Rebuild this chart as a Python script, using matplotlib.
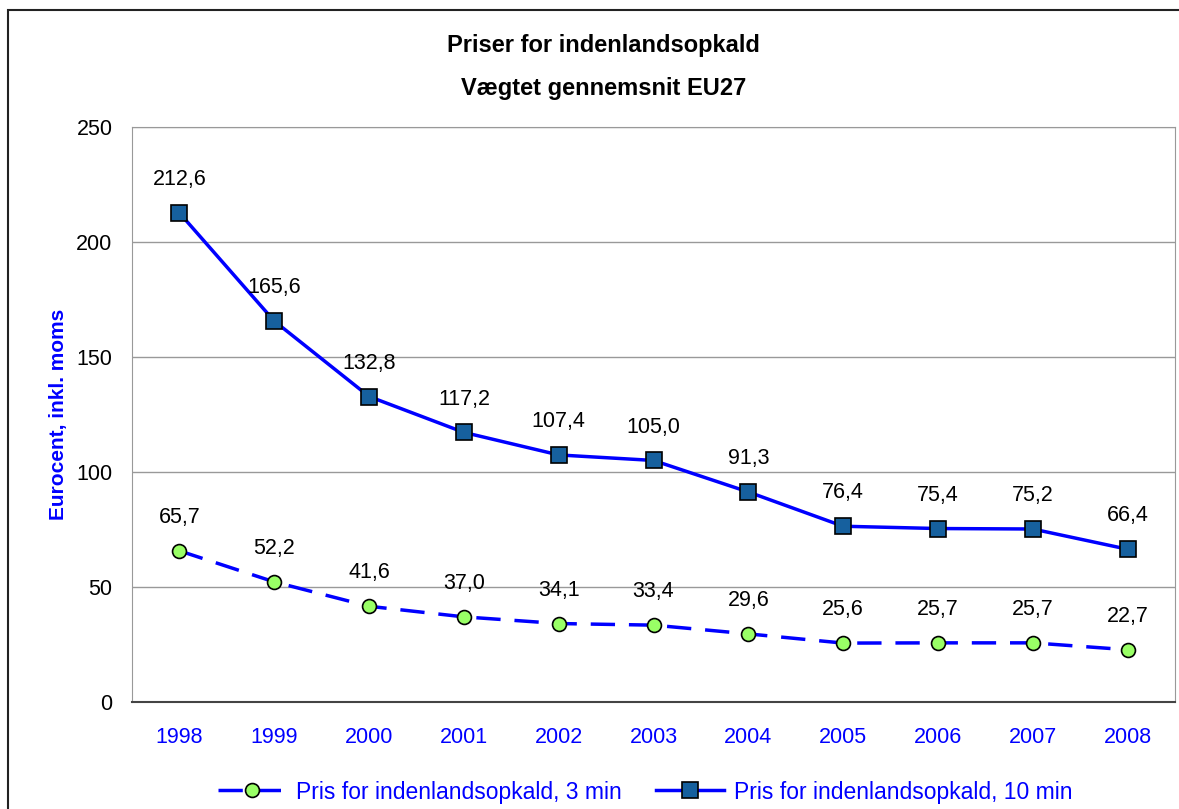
import matplotlib.pyplot as plt
from matplotlib.patches import Rectangle

plt.rcParams['font.family'] = ['Liberation Sans', 'DejaVu Sans']

# data
years = ['1998', '1999', '2000', '2001', '2002', '2003', '2004', '2005', '2006', '2007', '2008']
price_10min = [212.6, 165.6, 132.8, 117.2, 107.4, 105.0, 91.3, 76.4, 75.4, 75.2, 66.4]
price_3min = [65.7, 52.2, 41.6, 37.0, 34.1, 33.4, 29.6, 25.6, 25.7, 25.7, 22.7]
label_3min = 'Pris for indenlandsopkald, 3 min'
label_10min = 'Pris for indenlandsopkald, 10 min'

fig = plt.figure(figsize=(11.79, 8.09), dpi=100)
ax = fig.add_axes([0.112, 0.1323, 0.8846, 0.7108])

x = range(len(years))
l3, = ax.plot(x, price_3min, color='#0000FF', lw=2.5, dashes=(7, 4),
              marker='o', ms=10, mfc='#99FF66', mec='black', mew=1.2,
              label=label_3min, zorder=3)
l10, = ax.plot(x, price_10min, color='#0000FF', lw=2.5,
               marker='s', ms=11.5, mfc='#16609E', mec='black', mew=1.2,
               label=label_10min, zorder=3)

for xi, v in zip(x, price_10min):
    ax.annotate(f'{v:.1f}'.replace('.', ','), (xi, v), xytext=(0, 24),
                textcoords='offset points', ha='center', va='center', fontsize=15.5)
for xi, v in zip(x, price_3min):
    ax.annotate(f'{v:.1f}'.replace('.', ','), (xi, v), xytext=(0, 24),
                textcoords='offset points', ha='center', va='center', fontsize=15.5)

ax.set_xlim(-0.5, len(years) - 0.5)
ax.set_ylim(0, 250)
ax.set_yticks(range(0, 251, 50))
ax.set_xticks(list(x))
ax.set_xticklabels(years, color='#0000FF')
ax.tick_params(axis='both', length=0, labelsize=15.5)
ax.tick_params(axis='x', pad=18)
ax.tick_params(axis='y', pad=14)
ax.grid(axis='y', color='#999999', lw=1)
ax.set_axisbelow(True)
for s in ['top', 'right', 'left']:
    ax.spines[s].set_color('#999999')
ax.spines['bottom'].set_color('#444444')
ax.spines['bottom'].set_linewidth(1.5)

ax.set_ylabel('Eurocent, inkl. moms', color='#0000FF', fontweight='bold',
              fontsize=15, labelpad=6)

fig.text(0.512, 0.944, 'Priser for indenlandsopkald', ha='center', va='center',
         fontsize=17, fontweight='bold')
fig.text(0.512, 0.891, 'Vægtet gennemsnit EU27', ha='center', va='center',
         fontsize=17, fontweight='bold')

leg = fig.legend(handles=[l3, l10], loc='center', bbox_to_anchor=(0.547, 0.021),
                 ncol=2, frameon=False, fontsize=16.5, handlelength=3.0,
                 columnspacing=1.5, handletextpad=0.4)
for t in leg.get_texts():
    t.set_color('#0000FF')

# outer chart frame
fig.patches.append(Rectangle((8 / 1179, -0.01), 1.5, 1 - 10 / 809 + 0.01,
                             transform=fig.transFigure, fill=False,
                             edgecolor='#222222', lw=1.5, clip_on=False))

fig.savefig('out.png', dpi=100)
